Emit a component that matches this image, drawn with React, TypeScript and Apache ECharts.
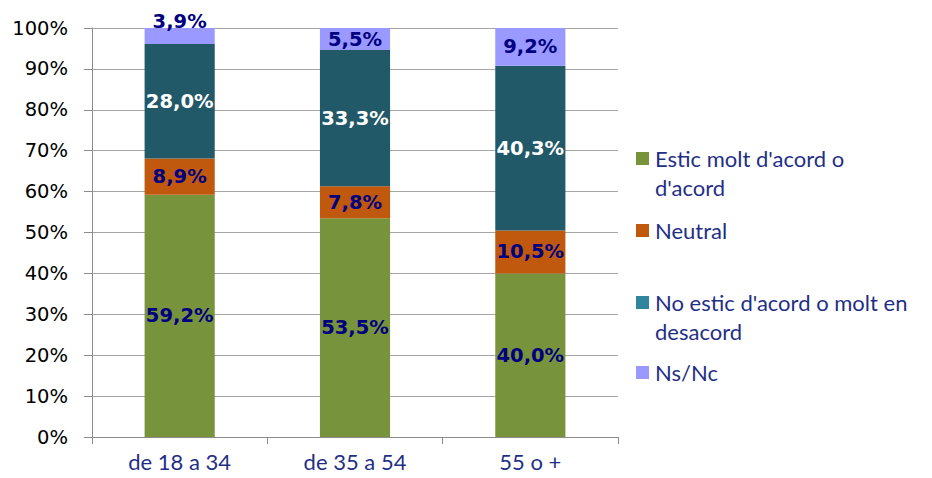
import React, { useEffect, useRef } from "react";
import * as echarts from "echarts";

const categories = ["de 18 a 34", "de 35 a 54", "55 o +"];
const seriesNames = [
  "Estic molt d'acord o d'acord",
  "Neutral",
  "No estic d'acord o molt en desacord",
  "Ns/Nc",
];
const agree = [59.2, 53.5, 40.0];
const neutral = [8.9, 7.8, 10.5];
const disagree = [28.0, 33.3, 40.3];
const nsnc = [3.9, 5.5, 9.2];
const yTicks = [0, 10, 20, 30, 40, 50, 60, 70, 80, 90, 100];

const barColors = ["#77933C", "#C0580E", "#215968", "#9999FF"];
const legendColors = ["#77933C", "#C0580E", "#31859C", "#9999FF"];
const labelColors = ["#000080", "#000080", "#FFFFFF", "#000080"];
const legendLines = [
  "Estic molt d'acord o\nd'acord",
  "Neutral",
  "No estic d'acord o molt en\ndesacord",
  "Ns/Nc",
];
const legendTops = [144, 216, 288, 358];

export default function App() {
  const ref = useRef<HTMLDivElement>(null);
  useEffect(() => {
    if (!ref.current) return;
    const chart = echarts.init(ref.current, undefined, { renderer: "svg" });
    const values = [agree, neutral, disagree, nsnc];
    const fmt = (v: number) => v.toFixed(1).replace(".", ",") + "%";
    const series = values.map((arr, i) => ({
      name: seriesNames[i],
      type: "bar",
      stack: "total",
      barWidth: "40%",
      itemStyle: { color: barColors[i] },
      label: {
        show: true,
        position: "inside",
        color: labelColors[i],
        fontFamily: "DejaVu Sans",
        fontWeight: "bold",
        fontSize: 19.5,
        formatter: (p: any) => fmt(p.value),
      },
      data: arr.map((v, j) =>
        i === 3 && j === 0 ? { value: v, label: { offset: [0, -14] } } : v
      ),
    }));
    const graphic: any[] = [];
    legendLines.forEach((t, i) => {
      graphic.push({
        type: "rect",
        left: 636,
        top: legendTops[i] + 8,
        shape: { width: 13, height: 13 },
        style: { fill: legendColors[i] },
      });
      graphic.push({
        type: "text",
        left: 655,
        top: legendTops[i],
        style: {
          text: t,
          fill: "#1F2F86",
          fontFamily: "Lato",
          fontSize: 22,
          lineHeight: 29,
        },
      });
    });
    chart.setOption({
      animation: false,
      grid: { left: 92, right: 314, top: 28, bottom: 41 },
      xAxis: {
        type: "category",
        data: categories,
        axisLine: { lineStyle: { color: "#8C8C8C", width: 1 } },
        axisTick: { show: true, length: 7, lineStyle: { color: "#8C8C8C" } },
        axisLabel: {
          color: "#1F2F86",
          fontFamily: "Lato",
          fontSize: 22,
          margin: 13,
        },
      },
      yAxis: {
        type: "value",
        min: 0,
        max: 100,
        interval: 10,
        axisLine: { show: true, lineStyle: { color: "#8C8C8C", width: 1 } },
        axisTick: { show: true, length: 8, lineStyle: { color: "#8C8C8C" } },
        splitLine: { lineStyle: { color: "#A6A6A6", width: 1 } },
        axisLabel: {
          color: "#000000",
          fontFamily: "DejaVu Sans",
          fontSize: 19.5,
          margin: 24,
          formatter: (v: number) => (yTicks.includes(v) ? v + "%" : ""),
        },
      },
      series,
      graphic,
    });
    return () => chart.dispose();
  }, []);
  return <div ref={ref} style={{ width: 932, height: 478, margin: -8 }} />;
}
